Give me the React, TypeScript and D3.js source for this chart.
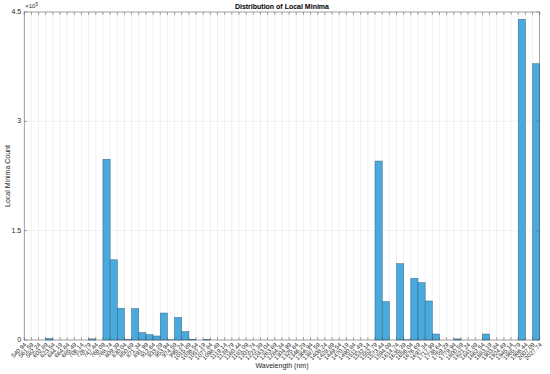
import React from 'react';
import * as d3 from 'd3';

// bin edges (nm) as printed under the axis
const edgeLabels = [
  '540.94', '561.59', '582.24', '602.89', '623.54', '644.19', '664.84', '685.49', '706.14', '726.79',
  '747.44', '768.09', '788.74', '809.39', '830.04', '850.69', '871.34', '891.99', '912.64', '933.29',
  '953.94', '974.59', '995.24', '1015.89', '1036.54', '1057.19', '1077.84', '1098.49', '1119.14', '1139.79',
  '1160.44', '1181.09', '1201.74', '1222.39', '1243.04', '1263.69', '1284.34', '1304.99', '1325.64', '1346.29',
  '1366.94', '1387.59', '1408.24', '1428.89', '1449.54', '1470.19', '1490.84', '1511.49', '1532.14', '1552.79',
  '1573.44', '1594.09', '1614.74', '1635.39', '1656.04', '1676.69', '1697.34', '1717.99', '1738.64', '1759.29',
  '1779.94', '1800.59', '1821.24', '1841.89', '1862.54', '1883.19', '1903.84', '1924.49', '1945.14', '1965.79',
  '1986.44', '2007.09', '2027.74',
];

// local minima count per bin
const counts = [
  0, 0, 0, 2000, 0, 0, 0, 0, 0, 1500,
  0, 248000, 110000, 43500, 500, 43000, 10000, 7300, 5500, 37000,
  300, 31000, 11400, 1000, 0, 500, 0, 0, 0, 0,
  0, 0, 0, 0, 0, 0, 0, 0, 0, 0,
  0, 0, 0, 0, 0, 0, 0, 0, 0, 245500,
  52500, 0, 104700, 300, 84600, 78600, 53500, 8200, 0, 0,
  1500, 0, 0, 0, 8200, 0, 0, 0, 0, 440000,
  0, 379000,
];

const yTicks = [0, 150000, 300000, 450000];
const yTickLabels = ['0', '1.5', '3', '4.5'];

const W = 550;
const H = 374;
const left = 24.2, right = 539.7, top = 12, bottom = 340;
const font = 'Liberation Sans, Arial, Helvetica, sans-serif';
const axisColor = '#262626';

const App = () => {
  const x = d3.scaleLinear().domain([0, counts.length]).range([left, right]);
  const y = d3.scaleLinear().domain([0, 450000]).range([bottom, top]);

  return (
    <svg width={W} height={H} style={{ position: 'absolute', left: 0, top: 0, background: '#fff' }} fontFamily={font}>
      <rect x={0} y={0} width={W} height={H} fill='#fff' />

      {/* grid */}
      <g stroke='#e8e8e8' strokeWidth={0.6}>
        {edgeLabels.map((l, i) => (
          <line key={'gx' + i} x1={x(i)} x2={x(i)} y1={top} y2={bottom} />
        ))}
        {yTicks.map((t, i) => (
          <line key={'gy' + i} x1={left} x2={right} y1={y(t)} y2={y(t)} />
        ))}
      </g>

      {/* bars */}
      <g fill='#4aaadd' stroke='#2f6482' strokeWidth={0.5}>
        {counts.map((c, i) => c > 0 ? (
          <rect key={'b' + i} x={x(i)} y={y(c)} width={x(i + 1) - x(i)} height={bottom - y(c)} />
        ) : null)}
      </g>

      {/* ticks */}
      <g stroke='#555' strokeWidth={0.5}>
        {edgeLabels.map((l, i) => (
          <g key={'tx' + i}>
            <line x1={x(i)} x2={x(i)} y1={bottom} y2={bottom - 3} />
            <line x1={x(i)} x2={x(i)} y1={top} y2={top + 3} />
          </g>
        ))}
        {yTicks.map((t, i) => (
          <g key={'ty' + i}>
            <line x1={left} x2={left + 3} y1={y(t)} y2={y(t)} />
            <line x1={right} x2={right - 3} y1={y(t)} y2={y(t)} />
          </g>
        ))}
      </g>

      {/* axes box */}
      <rect x={left} y={top} width={right - left} height={bottom - top} fill='none' stroke='#555' strokeWidth={0.5} />

      {/* x tick labels */}
      <g fill={axisColor} fontSize={6}>
        {edgeLabels.map((l, i) => (
          <text key={'lx' + i} transform={`translate(${x(i) + 1.5},${bottom + 4}) rotate(-45)`} textAnchor='end' dominantBaseline='middle'>
            {l}
          </text>
        ))}
      </g>

      {/* y tick labels */}
      <g fill={axisColor} fontSize={7}>
        {yTicks.map((t, i) => (
          <text key={'ly' + i} x={left - 3} y={y(t)} textAnchor='end' dominantBaseline='middle'>
            {yTickLabels[i]}
          </text>
        ))}
        <text x={left + 1} y={top - 4} fontSize={6}>
          ×10<tspan dy={-2} fontSize={4.5}>5</tspan>
        </text>
      </g>

      {/* labels */}
      <text x={(left + right) / 2} y={top - 3} textAnchor='middle' fontSize={7} fontWeight='bold' fill='#000'>
        Distribution of Local Minima
      </text>
      <text x={(left + right) / 2} y={368} textAnchor='middle' fontSize={7} fill={axisColor}>
        Wavelength (nm)
      </text>
      <text transform={`translate(10,${(top + bottom) / 2}) rotate(-90)`} textAnchor='middle' fontSize={7} fill={axisColor}>
        Local Minima Count
      </text>
    </svg>
  );
};

export default App;
